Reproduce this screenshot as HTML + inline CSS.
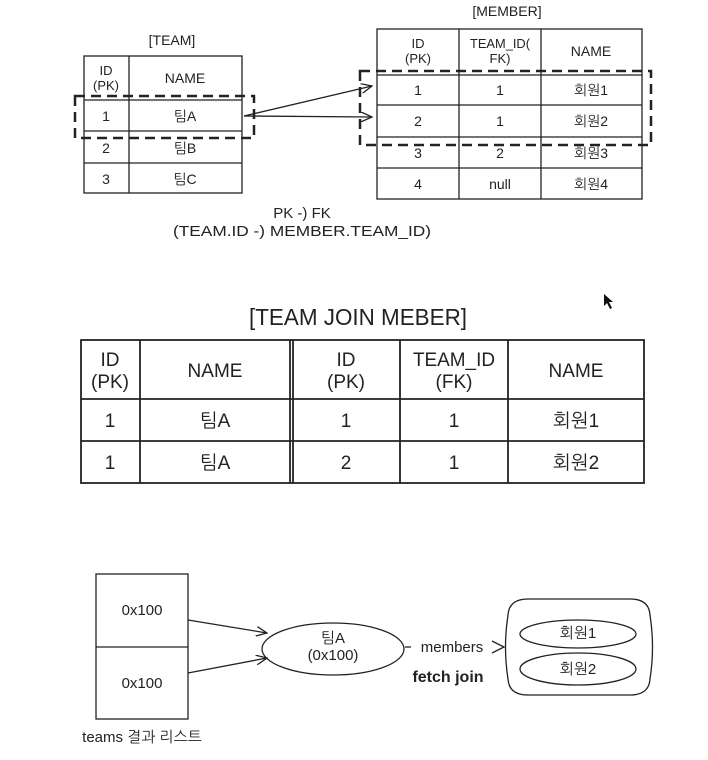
<!DOCTYPE html>
<html><head><meta charset="utf-8"><style>
html,body{margin:0;padding:0;background:#fff;}
svg{display:block;}
text{font-family:"Liberation Sans","NanumGothic","Noto Sans CJK KR",sans-serif;fill:#222;}
</style></head><body>
<svg width="708" height="760" viewBox="0 0 708 760" xmlns="http://www.w3.org/2000/svg">
<defs>
<marker id="a" markerWidth="12" markerHeight="10" refX="11" refY="5" orient="auto" markerUnits="userSpaceOnUse">
<path d="M0,0 L11,5 L0,10" fill="none" stroke="#222" stroke-width="1.3"/></marker>
</defs>
<g stroke="#222" stroke-width="1.3" fill="none">
<rect x="84" y="56" width="158" height="137"/>
<line x1="129" y1="56" x2="129" y2="193"/>
<line x1="84" y1="100" x2="242" y2="100"/>
<line x1="84" y1="131" x2="242" y2="131"/>
<line x1="84" y1="163" x2="242" y2="163"/>
<rect x="377" y="29" width="265" height="170"/>
<line x1="459" y1="29" x2="459" y2="199"/>
<line x1="541" y1="29" x2="541" y2="199"/>
<line x1="377" y1="75" x2="642" y2="75"/>
<line x1="377" y1="105" x2="642" y2="105"/>
<line x1="377" y1="137" x2="642" y2="137"/>
<line x1="377" y1="168" x2="642" y2="168"/>
</g>
<g stroke="#222" stroke-width="2.5" fill="none" stroke-dasharray="10,6">
<rect x="75" y="96" width="179" height="42"/>
<rect x="360" y="71" width="291" height="74"/>
</g>
<g stroke="#222" stroke-width="1.3" fill="none">
<line x1="244" y1="116" x2="372" y2="86" marker-end="url(#a)"/>
<line x1="244" y1="116" x2="372" y2="117" marker-end="url(#a)"/>
</g>
<g font-size="14" text-anchor="middle">
<text x="172" y="45">[TEAM]</text>
<text x="507" y="16">[MEMBER]</text>
<text x="106" y="75" font-size="13">ID</text><text x="106" y="90" font-size="13">(PK)</text>
<text x="185" y="83">NAME</text>
<text x="106" y="121">1</text><text x="185" y="121">팀A</text>
<text x="106" y="153">2</text><text x="185" y="153">팀B</text>
<text x="106" y="184">3</text><text x="185" y="184">팀C</text>
<text x="418" y="48" font-size="13">ID</text><text x="418" y="63" font-size="13">(PK)</text>
<text x="500" y="48" font-size="13" textLength="60" lengthAdjust="spacingAndGlyphs">TEAM_ID(</text><text x="500" y="63" font-size="13">FK)</text>
<text x="591" y="56">NAME</text>
<text x="418" y="95">1</text><text x="500" y="95">1</text><text x="591" y="95">회원1</text>
<text x="418" y="126">2</text><text x="500" y="126">1</text><text x="591" y="126">회원2</text>
<text x="418" y="158">3</text><text x="500" y="158">2</text><text x="591" y="158">회원3</text>
<text x="418" y="189">4</text><text x="500" y="189">null</text><text x="591" y="189">회원4</text>
<text x="302" y="218" font-size="15">PK -) FK</text>
<text x="302" y="236" font-size="15" textLength="258" lengthAdjust="spacingAndGlyphs">(TEAM.ID -) MEMBER.TEAM_ID)</text>
</g>
<path d="M604,294 L604,306 L607,303 L610,309 L612,308 L609,302 L613,302 Z" fill="#111"/>
<text x="358" y="325" font-size="23" text-anchor="middle" textLength="218" lengthAdjust="spacingAndGlyphs">[TEAM JOIN MEBER]</text>
<g stroke="#222" stroke-width="1.8" fill="none">
<rect x="81" y="340" width="563" height="143"/>
<line x1="140" y1="340" x2="140" y2="483"/>
<line x1="290" y1="340" x2="290" y2="483"/>
<line x1="293" y1="340" x2="293" y2="483"/>
<line x1="400" y1="340" x2="400" y2="483"/>
<line x1="508" y1="340" x2="508" y2="483"/>
<line x1="81" y1="399" x2="644" y2="399"/>
<line x1="81" y1="441" x2="644" y2="441"/>
</g>
<g font-size="19" text-anchor="middle">
<text x="110" y="366">ID</text><text x="110" y="388">(PK)</text>
<text x="215" y="377">NAME</text>
<text x="346" y="366">ID</text><text x="346" y="388">(PK)</text>
<text x="454" y="366" textLength="82" lengthAdjust="spacingAndGlyphs">TEAM_ID</text><text x="454" y="388">(FK)</text>
<text x="576" y="377">NAME</text>
<text x="110" y="427">1</text><text x="215" y="427">팀A</text><text x="346" y="427">1</text><text x="454" y="427">1</text><text x="576" y="427">회원1</text>
<text x="110" y="469">1</text><text x="215" y="469">팀A</text><text x="346" y="469">2</text><text x="454" y="469">1</text><text x="576" y="469">회원2</text>
</g>
<g stroke="#222" stroke-width="1.3" fill="none">
<rect x="96" y="574" width="92" height="145"/>
<line x1="96" y1="647" x2="188" y2="647"/>
<ellipse cx="333" cy="649" rx="71" ry="26"/>
<line x1="188" y1="620" x2="267" y2="633" marker-end="url(#a)"/>
<line x1="188" y1="673" x2="267" y2="658" marker-end="url(#a)"/>
<line x1="405" y1="647" x2="411" y2="647"/>
<path d="M492,641 L504,647 L492,653"/>
<path d="M528,599 L630,599 Q649,599 650,615 Q655,647 650,679 Q649,695 630,695 L528,695 Q509,695 508,679 Q503,647 508,615 Q509,599 528,599 Z"/>
<ellipse cx="578" cy="634" rx="58" ry="14"/>
<ellipse cx="578" cy="669" rx="58" ry="16"/>
</g>
<g font-size="15" text-anchor="middle">
<text x="142" y="615">0x100</text>
<text x="142" y="688">0x100</text>
<text x="333" y="643">팀A</text>
<text x="333" y="660">(0x100)</text>
<text x="452" y="652">members</text>
<text x="448" y="682" font-weight="bold" font-size="16">fetch join</text>
<text x="578" y="638">회원1</text>
<text x="578" y="674">회원2</text>
<text x="142" y="742">teams 결과 리스트</text>
</g>
</svg>
</body></html>
